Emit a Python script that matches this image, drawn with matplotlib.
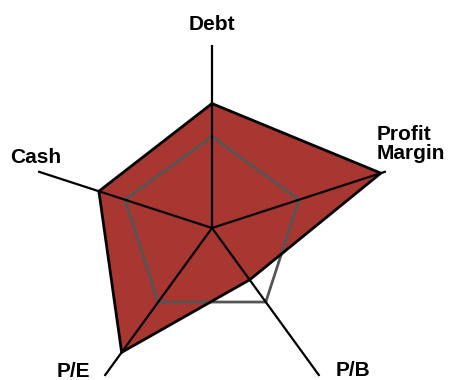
import numpy as np
import matplotlib
matplotlib.use("Agg")
import matplotlib.pyplot as plt

categories = ["Debt", "Profit\nMargin", "P/B", "P/E", "Cash"]
values = [0.68, 0.97, 0.35, 0.84, 0.65]
reference = [0.5, 0.5, 0.5, 0.5, 0.5]
r_max = 1.0

plt.rcParams['font.family'] = ['Liberation Sans', 'DejaVu Sans']

W, H = 451, 380
fig = plt.figure(figsize=(W / 100, H / 100), dpi=100)
cx, cy, R = 212, 228, 183
ax = fig.add_axes([(cx - R) / W, (H - cy - R) / H, 2 * R / W, 2 * R / H], projection='polar')
ax.set_theta_offset(np.pi / 2)
ax.set_theta_direction(-1)
ax.set_ylim(0, r_max)
ax.axis('off')

n = len(categories)
angles = np.arange(n) * 2 * np.pi / n
closed = np.append(angles, angles[0])

vals = np.append(values, values[0])
ax.fill(closed, vals, color='#A93731', zorder=1, linewidth=0)

for a in angles:
    ax.plot([a, a], [0, r_max], color='black', lw=1.6, zorder=3, solid_capstyle='butt')

refs = np.append(reference, reference[0])
ax.plot(closed, refs, color='#555555', lw=2.0, zorder=2)
ax.plot(closed, vals, color='black', lw=2.0, zorder=4, solid_joinstyle='miter')

# label offsets in pixels from axis end (dx right, dy up)
label_style = [
    ((0, 20), 'center', 'center'),
    ((-9, 27), 'left', 'center'),
    ((33, 6), 'center', 'center'),
    ((-31, 5), 'center', 'center'),
    ((-2, 14), 'center', 'center'),
]
for a, lab, (off, ha, va) in zip(angles, categories, label_style):
    ax.annotate(lab, xy=(a, r_max), xytext=(off[0] * 0.72, off[1] * 0.72),
                textcoords='offset points', ha=ha, va=va,
                fontsize=15, fontweight='bold', linespacing=1.0,
                annotation_clip=False)

fig.savefig('out.png', dpi=100)
